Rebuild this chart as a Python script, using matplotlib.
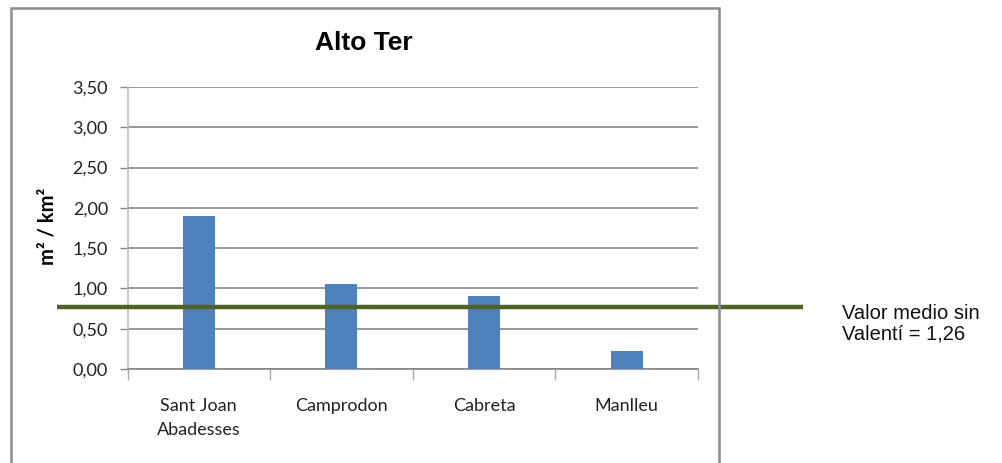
import matplotlib
matplotlib.use("Agg")
import matplotlib.pyplot as plt
import matplotlib.transforms as mtransforms
from matplotlib.patches import Rectangle

# Data
categories = ["Sant Joan\nAbadesses", "Camprodon", "Cabreta", "Manlleu"]
values = [1.90, 1.06, 0.905, 0.22]
y_ticks = [0.0, 0.5, 1.0, 1.5, 2.0, 2.5, 3.0, 3.5]
y_tick_labels = ["0,00", "0,50", "1,00", "1,50", "2,00", "2,50", "3,00", "3,50"]
mean_line_level = 0.77
mean_note = "Valor medio sin\nValentí = 1,26"
title = "Alto Ter"
y_label = "m² / km²"

W, H = 1002, 463
fig = plt.figure(figsize=(W / 100, H / 100), dpi=100)
fig.patch.set_facecolor("white")

label_font = ["Lato", "DejaVu Sans"]
arial_like = ["Liberation Sans", "DejaVu Sans"]

# Chart frame
fig.patches.append(Rectangle((11 / W, -0.05), (719 - 11) / W, 1.05 - 7.5 / H,
                             transform=fig.transFigure, fill=False,
                             edgecolor="#8c8c8c", linewidth=1.8))

ax = fig.add_axes([127.5 / W, (H - 369) / H, (698 - 127.5) / W, (369 - 87) / H])
x = list(range(len(categories)))
ax.bar(x, values, width=0.225, color="#4F81BD", zorder=3)
ax.set_xlim(-0.5, len(categories) - 0.5)
ax.set_ylim(0, 3.5)

ax.set_yticks(y_ticks)
ax.set_yticklabels(y_tick_labels)
ax.yaxis.grid(True, color="#868686", linewidth=1.2, zorder=0)
ax.tick_params(axis="y", length=6, width=1, color="#868686", pad=8,
               labelsize=13, labelcolor="#222222")

# Category boundary ticks, labels centred under bars
ax.set_xticks([i - 0.5 for i in range(len(categories) + 1)])
ax.set_xticklabels([])
ax.set_xticks(x, minor=True)
ax.set_xticklabels(categories, minor=True, fontsize=13, color="#222222",
                   linespacing=1.6)
ax.tick_params(axis="x", which="major", length=8, width=1, color="#aaaaaa")
ax.tick_params(axis="x", which="minor", length=0, pad=21)

for lab in ax.get_yticklabels() + ax.get_xticklabels(minor=True):
    lab.set_family(label_font)

for side in ("top", "right"):
    ax.spines[side].set_visible(False)
ax.spines["left"].set_color("#c0c0c0")
ax.spines["bottom"].set_color("#868686")
ax.spines["left"].set_linewidth(1.2)
ax.spines["bottom"].set_linewidth(1.2)

# Mean reference line extending beyond the plot area
trans = mtransforms.blended_transform_factory(fig.transFigure, ax.transData)
ax.plot([57 / W, 803 / W], [mean_line_level, mean_line_level], transform=trans,
        color="#4F6228", linewidth=3.2, solid_capstyle="butt", clip_on=False,
        zorder=4)

fig.text(842 / W, 1 - 304 / H, mean_note, ha="left", va="top",
         fontsize=14.5, family=arial_like, linespacing=1.1, color="#111111")

fig.text(364 / W, 1 - 43 / H, title, ha="center", va="center",
         fontsize=19, fontweight="bold", family=arial_like)

fig.text(47 / W, 1 - 226 / H, y_label, ha="center", va="center", rotation=90,
         fontsize=14.5, fontweight="bold", family=label_font)

fig.savefig("out.png", dpi=100, facecolor="white")
